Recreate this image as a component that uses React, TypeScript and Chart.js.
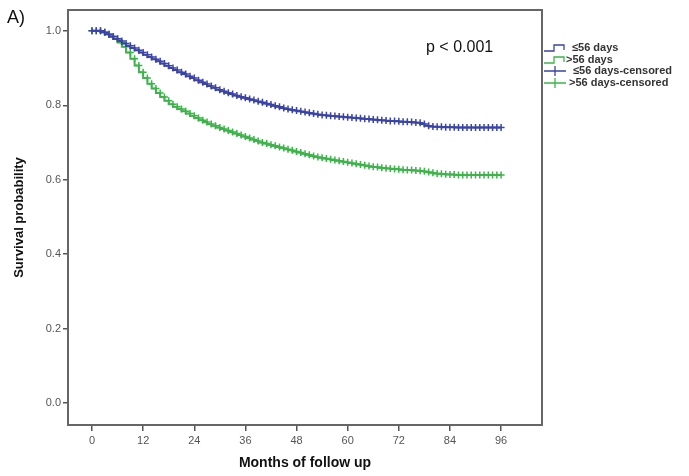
import React, { useEffect, useRef } from "react";
import { Chart, registerables } from "chart.js";

Chart.register(...registerables);

// Months of follow-up (x positions of the Kaplan-Meier estimates)
const months = [
  0, 1, 2, 3, 4, 5, 6, 7, 8, 9, 10, 11, 12, 13, 14, 15, 16, 17, 18, 19, 20,
  21, 22, 23, 24, 25, 26, 27, 28, 29, 30, 31, 32, 33, 34, 35, 36, 37, 38, 39,
  40, 41, 42, 43, 44, 45, 46, 47, 48, 49, 50, 51, 52, 53, 54, 55, 56, 57, 58,
  59, 60, 61, 62, 63, 64, 65, 66, 67, 68, 69, 70, 71, 72, 73, 74, 75, 76, 77,
  78, 79, 80, 81, 82, 83, 84, 85, 86, 87, 88, 89, 90, 91, 92, 93, 94, 95, 96,
];

// ≤56 days group survival
const survivalShort = [
  1.0, 1.0, 1.0, 0.996, 0.991, 0.985, 0.979, 0.973, 0.966, 0.96, 0.954, 0.948,
  0.942, 0.936, 0.93, 0.924, 0.918, 0.912, 0.906, 0.9, 0.895, 0.889, 0.884,
  0.878, 0.873, 0.867, 0.862, 0.857, 0.852, 0.847, 0.842, 0.838, 0.834, 0.83,
  0.826, 0.823, 0.82, 0.817, 0.814, 0.811, 0.808, 0.805, 0.802, 0.799, 0.796,
  0.793, 0.79, 0.788, 0.786, 0.784, 0.782, 0.78, 0.778, 0.776, 0.774, 0.773,
  0.772, 0.771, 0.77, 0.769, 0.768, 0.767, 0.766, 0.765, 0.764, 0.763, 0.762,
  0.761, 0.76, 0.759, 0.758, 0.758, 0.757, 0.756, 0.756, 0.755, 0.754, 0.753,
  0.75, 0.745, 0.743, 0.742, 0.742, 0.741, 0.741, 0.741, 0.74, 0.74, 0.74,
  0.74, 0.74, 0.74, 0.74, 0.74, 0.74, 0.74, 0.74,
];

// >56 days group survival
const survivalLong = [
  1.0, 1.0, 1.0, 0.996, 0.991, 0.985, 0.978, 0.969, 0.957, 0.942, 0.925, 0.907,
  0.889, 0.873, 0.858, 0.845, 0.833, 0.822, 0.812, 0.803, 0.796, 0.79, 0.784,
  0.778, 0.772, 0.766, 0.76, 0.755, 0.75, 0.745, 0.74, 0.736, 0.732, 0.728,
  0.724, 0.72, 0.716, 0.712, 0.708, 0.704, 0.7, 0.697, 0.694, 0.691, 0.688,
  0.685, 0.682, 0.679, 0.676, 0.673, 0.67, 0.667, 0.664, 0.661, 0.659, 0.657,
  0.655, 0.653, 0.651, 0.649, 0.647, 0.645, 0.643, 0.641, 0.639, 0.637, 0.635,
  0.634, 0.632, 0.631, 0.63, 0.629, 0.628, 0.627, 0.626, 0.626, 0.625, 0.624,
  0.623, 0.621, 0.619, 0.617, 0.616, 0.615, 0.614, 0.614, 0.613, 0.613, 0.613,
  0.613, 0.613, 0.613, 0.613, 0.613, 0.613, 0.613, 0.613,
];

const xTicks = [0, 12, 24, 36, 48, 60, 72, 84, 96];
const yTicks = [0, 0.2, 0.4, 0.6, 0.8, 1.0];
const groupLabels = ["\u226456 days", ">56 days"];
const censorLabels = ["\u226456 days-censored", ">56 days-censored"];
const groupColors = ["#3a44a6", "#3cb44a"];
const pValueText = "p < 0.001";
const panelLabel = "A)";
const xTitle = "Months of follow up";
const yTitle = "Survival probability";

const decorPlugin = {
  id: "decor",
  afterDraw(chart: any) {
    const { ctx, chartArea } = chart;
    const { left, top, right, bottom } = chartArea;
    ctx.save();
    // plot frame
    ctx.strokeStyle = "#666";
    ctx.lineWidth = 2;
    ctx.strokeRect(left, top, right - left, bottom - top);

    // panel label
    ctx.fillStyle = "#111";
    ctx.font = "18px Arial";
    ctx.textBaseline = "middle";
    ctx.textAlign = "left";
    ctx.fillText(panelLabel, 7, 18);

    // p-value
    ctx.font = "16px Arial";
    ctx.fillText(pValueText, 426, 48);

    // legend
    const lx = 544;
    const rows = [48, 60, 71, 83];
    ctx.font = "bold 11px Arial";
    ctx.lineWidth = 1.3;
    for (let g = 0; g < 2; g++) {
      const y = rows[g];
      ctx.strokeStyle = groupColors[g];
      ctx.beginPath();
      ctx.moveTo(lx, y + 3);
      ctx.lineTo(lx + 10, y + 3);
      ctx.lineTo(lx + 10, y - 3);
      ctx.lineTo(lx + 20, y - 3);
      ctx.lineTo(lx + 20, y + 2);
      ctx.stroke();
      ctx.fillStyle = "#333";
      ctx.fillText(groupLabels[g], g === 0 ? lx + 28 : lx + 22, y);
    }
    for (let g = 0; g < 2; g++) {
      const y = rows[g + 2];
      ctx.strokeStyle = groupColors[g];
      ctx.beginPath();
      ctx.moveTo(lx, y);
      ctx.lineTo(lx + 22, y);
      ctx.moveTo(lx + 11, y - 5);
      ctx.lineTo(lx + 11, y + 5);
      ctx.stroke();
      ctx.fillStyle = "#333";
      ctx.fillText(censorLabels[g], g === 0 ? lx + 29 : lx + 25, y);
    }
    ctx.restore();
  },
};

export default function App() {
  const canvasRef = useRef<HTMLCanvasElement | null>(null);

  useEffect(() => {
    if (!canvasRef.current) return;
    const makeData = (vals: number[]) =>
      months.map((m, i) => ({ x: m, y: vals[i] }));
    const datasets = [survivalShort, survivalLong].map((vals, g) => ({
      label: groupLabels[g],
      data: makeData(vals),
      borderColor: groupColors[g],
      backgroundColor: groupColors[g],
      borderWidth: 2,
      stepped: "after" as const,
      showLine: true,
      pointStyle: "cross" as const,
      pointRadius: 3.5,
      pointBorderWidth: 1.5,
      pointBorderColor: groupColors[g],
      fill: false,
    }));

    const chart = new Chart(canvasRef.current, {
      type: "scatter",
      data: { datasets },
      plugins: [decorPlugin],
      options: {
        animation: false,
        responsive: false,
        maintainAspectRatio: false,
        layout: { padding: { left: 8, top: 10, right: 147, bottom: 0 } },
        plugins: {
          legend: { display: false },
          tooltip: { enabled: false },
        },
        scales: {
          x: {
            type: "linear",
            min: -5.63,
            max: 105.6,
            afterBuildTicks: (s: any) => {
              s.ticks = xTicks.map((v) => ({ value: v }));
            },
            afterFit: (s: any) => {
              s.height = 51;
            },
            ticks: {
              color: "#555",
              font: { size: 11, family: "Arial" },
              padding: 3,
              maxRotation: 0,
              autoSkip: false,
            },
            grid: {
              display: true,
              drawOnChartArea: false,
              drawTicks: true,
              tickLength: 6,
              color: "#555",
              lineWidth: 1.5,
            },
            border: { display: false },
            title: {
              display: true,
              text: xTitle,
              color: "#111",
              font: { size: 14, weight: "bold", family: "Arial" },
            },
          },
          y: {
            type: "linear",
            min: -0.059,
            max: 1.056,
            afterBuildTicks: (s: any) => {
              s.ticks = yTicks.map((v) => ({ value: v }));
            },
            afterFit: (s: any) => {
              s.width = 60;
            },
            ticks: {
              color: "#555",
              font: { size: 11, family: "Arial" },
              padding: 2,
              callback: (v: any) => Number(v).toFixed(1),
            },
            grid: {
              display: true,
              drawOnChartArea: false,
              drawTicks: true,
              tickLength: 5,
              color: "#555",
              lineWidth: 1.5,
            },
            border: { display: false },
            title: {
              display: true,
              text: yTitle,
              color: "#111",
              font: { size: 13, weight: "bold", family: "Arial" },
            },
          },
        },
      },
    });
    return () => chart.destroy();
  }, []);

  return (
    <div
      style={{
        position: "absolute",
        left: 0,
        top: 0,
        width: 689,
        height: 476,
        background: "#fff",
      }}
    >
      <canvas ref={canvasRef} width={689} height={476} />
    </div>
  );
}
